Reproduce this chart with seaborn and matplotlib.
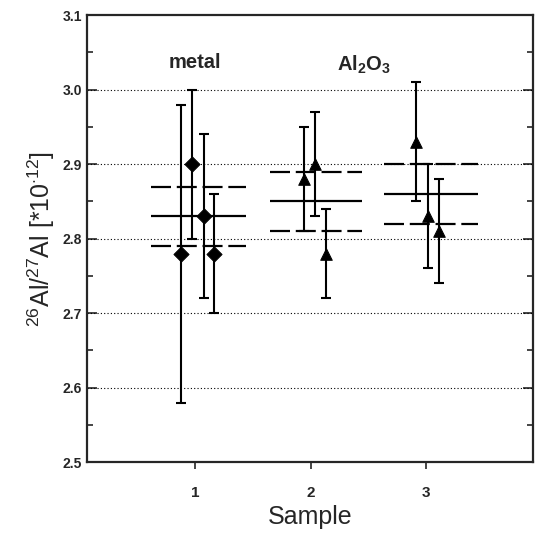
import pandas as pd
import matplotlib
matplotlib.use('Agg')
import matplotlib.pyplot as plt
import seaborn as sns
from matplotlib.ticker import MultipleLocator

# measured points (sample position, ratio, 1-sigma)
metal_x = [0.88, 0.98, 1.08, 1.17]
metal_y = [2.78, 2.90, 2.83, 2.78]
metal_err = [0.20, 0.10, 0.11, 0.08]

oxide_x = [1.94, 2.04, 2.13, 2.91, 3.01, 3.11]
oxide_y = [2.88, 2.90, 2.78, 2.93, 2.83, 2.81]
oxide_err = [0.07, 0.07, 0.06, 0.08, 0.07, 0.07]

# weighted means per sample with +/- band
mean_val = [2.83, 2.85, 2.86]
mean_hi = [2.87, 2.89, 2.90]
mean_lo = [2.79, 2.81, 2.82]
mean_from = [0.62, 1.65, 2.63]
mean_to = [1.44, 2.44, 3.45]

sample_ticks = [1, 2, 3]

metal = pd.DataFrame({'x': metal_x, 'y': metal_y, 'err': metal_err})
oxide = pd.DataFrame({'x': oxide_x, 'y': oxide_y, 'err': oxide_err})

sns.set_style('ticks')
plt.rcParams['font.family'] = ['Liberation Sans', 'DejaVu Sans']
plt.rcParams['mathtext.fontset'] = 'custom'
plt.rcParams['mathtext.rm'] = 'Liberation Sans'
plt.rcParams['mathtext.bf'] = 'Liberation Sans:bold'

fig = plt.figure(figsize=(5.41, 5.43), dpi=100)
ax = fig.add_axes([0.161, 0.149, 0.824, 0.823])

# mean lines
dash = (0, (9, 2.6))
ax.hlines(mean_val, mean_from, mean_to, colors='black', lw=1.6, zorder=2)
ax.hlines(mean_hi, mean_from, mean_to, colors='black', lw=1.6, linestyles=dash, zorder=2)
ax.hlines(mean_lo, mean_from, mean_to, colors='black', lw=1.6, linestyles=dash, zorder=2)

for d in (metal, oxide):
    ax.errorbar(d['x'], d['y'], yerr=d['err'], fmt='none', ecolor='black',
                elinewidth=1.5, capsize=3.5, capthick=1.5, zorder=3)
sns.scatterplot(data=metal, x='x', y='y', marker='D', color='black', s=60,
                edgecolor='black', legend=False, ax=ax, zorder=4)
sns.scatterplot(data=oxide, x='x', y='y', marker='^', color='black', s=70,
                edgecolor='black', legend=False, ax=ax, zorder=4)

ax.set_xlim(0.07, 3.92)
ax.set_xticks(sample_ticks)
ax.set_xticklabels([str(t) for t in sample_ticks], fontweight='bold', fontsize=11)
ax.yaxis.set_major_locator(MultipleLocator(0.1))
ax.yaxis.set_minor_locator(MultipleLocator(0.05))
ax.set_ylim(2.5, 3.1)
ax.set_yticks([2.5, 2.6, 2.7, 2.8, 2.9, 3.0, 3.1])
ax.set_yticklabels(['2.5', '2.6', '2.7', '2.8', '2.9', '3.0', '3.1'],
                   fontweight='bold', fontsize=10)
ax.set_ylim(2.5, 3.1)
ax.tick_params(axis='y', which='both', direction='in', right=True, width=1.2)
ax.tick_params(axis='y', which='major', length=7)
ax.tick_params(axis='y', which='minor', length=4)
ax.tick_params(axis='x', direction='out', length=5, width=1.2, pad=12)

for v in [2.6, 2.7, 2.8, 2.9, 3.0]:
    ax.axhline(v, color='black', lw=0.8, ls=(0, (1, 2)), zorder=1)

for s in ax.spines.values():
    s.set_linewidth(1.6)

ax.text(1.0, 3.036, 'metal', ha='center', va='center', fontsize=14.5, fontweight='bold')
ax.text(2.46, 3.034, r'$\mathbf{Al_2O_3}$', ha='center', va='center', fontsize=14.5)

ax.set_xlabel('Sample', fontsize=18, labelpad=4)
ax.set_ylabel(r'$^{26}$Al/$^{27}$Al [*10$^{\cdot12}$]', fontsize=18, labelpad=4)

fig.savefig('out.png', dpi=100)
